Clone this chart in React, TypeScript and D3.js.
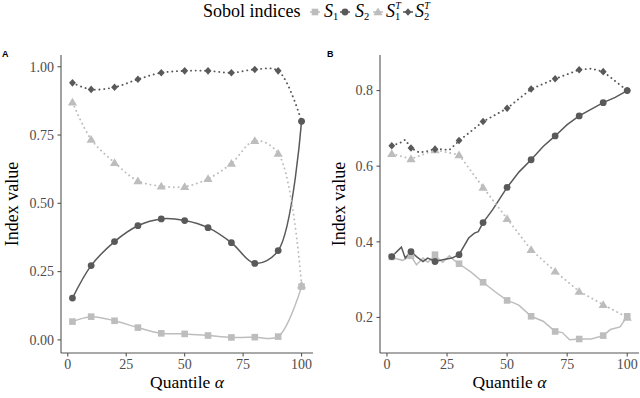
import React from "react"
import * as d3 from "d3"

// quantile levels where the points sit
const quantiles = [2, 10, 20, 30, 40, 50, 60, 70, 80, 90, 100]
const xTicks = [0, 25, 50, 75, 100]

// panel A values
const aS1 = [0.067, 0.085, 0.07, 0.045, 0.024, 0.022, 0.016, 0.009, 0.01, 0.012, 0.195]
const aS2 = [0.153, 0.272, 0.36, 0.418, 0.443, 0.437, 0.411, 0.356, 0.28, 0.327, 0.8]
const aS1T = [0.87, 0.734, 0.649, 0.582, 0.563, 0.561, 0.59, 0.646, 0.729, 0.683, 0.2]
const aS2T = [0.941, 0.917, 0.925, 0.954, 0.978, 0.985, 0.985, 0.978, 0.99, 0.985, 0.8]
const aTicks = [0, 0.25, 0.5, 0.75, 1]

// panel B values
const bS1 = [0.36, 0.363, 0.366, 0.342, 0.293, 0.245, 0.203, 0.163, 0.143, 0.152, 0.203]
const bS2 = [0.361, 0.374, 0.348, 0.366, 0.451, 0.544, 0.617, 0.68, 0.733, 0.768, 0.8]
const bS1T = [0.633, 0.619, 0.643, 0.63, 0.544, 0.461, 0.379, 0.322, 0.269, 0.234, 0.2]
const bS2T = [0.654, 0.648, 0.645, 0.668, 0.718, 0.753, 0.804, 0.831, 0.855, 0.85, 0.8]
const bTicks = [0.2, 0.4, 0.6, 0.8]

// panel B lines follow the finer estimates
const bLineS1: [number, number][] = [
  [2, 0.36], [4, 0.355], [6.5, 0.351], [10, 0.363], [12.3, 0.339], [15, 0.357], [17, 0.346],
  [20, 0.363], [23.2, 0.346], [26, 0.363], [28, 0.351], [30, 0.342], [35, 0.32], [40, 0.293],
  [45, 0.268], [50, 0.245], [53, 0.238], [55, 0.232], [60, 0.203], [65, 0.19], [70, 0.163],
  [73, 0.16], [76, 0.141], [80, 0.143], [85, 0.143], [90, 0.152], [93, 0.168], [97, 0.175], [100, 0.203],
]
const bLineS2: [number, number][] = [
  [2, 0.361], [6, 0.386], [7.6, 0.357], [10, 0.374], [12.3, 0.361], [15, 0.348], [17, 0.357],
  [20, 0.348], [23.7, 0.353], [27, 0.357], [30, 0.366], [34, 0.41], [36.4, 0.423], [38, 0.427],
  [40, 0.451], [44, 0.485], [50, 0.544], [55, 0.585], [60, 0.617], [65, 0.652], [70, 0.68],
  [75, 0.71], [80, 0.733], [90, 0.768], [95, 0.782], [100, 0.8],
]
const bLineS2T: [number, number][] = [
  [2, 0.655], [5, 0.66], [7.6, 0.67], [10, 0.648], [13.5, 0.636], [17, 0.64], [20, 0.646],
  [26, 0.643], [30, 0.667], [40, 0.718], [50, 0.753], [60, 0.804], [70, 0.831], [80, 0.855],
  [85, 0.858], [90, 0.85], [100, 0.8],
]

const light = "#bdbdbd"
const dark = "#595959"
const serif = "'Liberation Serif', 'Times New Roman', serif"

const zip = (vals: number[]) => quantiles.map((q, i) => [q, vals[i]] as [number, number])

function Marker({shape, x, y, color}: {shape: string, x: number, y: number, color: string}) {
  if (shape == "circle") return <circle cx={x} cy={y} r={3.4} fill={color} />
  if (shape == "square") return <rect x={x - 3.3} y={y - 3.3} width={6.6} height={6.6} fill={color} />
  if (shape == "triangle") {
    let s = 4.4
    return <path d={`M${x},${y - s}L${x + s * 1.05},${y + s * 0.75}L${x - s * 1.05},${y + s * 0.75}Z`} fill={color} />
  }
  let s = 3.8
  return <path d={`M${x},${y - s}L${x + s * 0.9},${y}L${x},${y + s}L${x - s * 0.9},${y}Z`} fill={color} />
}

type Series = {points: [number, number][], line: [number, number][], shape: string, color: string, dotted: boolean}

function Panel({left, right, yDomain, yTicks, fmt, label, labelX, titleX, series, smooth}: any) {
  let top = 55, bottom = 353
  let x = d3.scaleLinear().domain([-2.9, 104.9]).range([left, right])
  let y = d3.scaleLinear().domain(yDomain).range([bottom, top])
  let line = d3.line<[number, number]>()
    .x(d => x(d[0]))
    .y(d => y(d[1]))
    .curve(smooth ? d3.curveCatmullRom.alpha(0.5) : d3.curveLinear)

  return (
    <g>
      <text x={labelX} y={57} fontFamily="'Liberation Sans', Arial, sans-serif" fontWeight="bold" fontSize={9}>{label}</text>
      {(series as Series[]).map((s, i) => (
        <path key={"l" + i} d={line(s.line) || ""} fill="none" stroke={s.color}
          strokeWidth={s.dotted ? 1.9 : 1.5}
          strokeDasharray={s.dotted ? "0.1 4.6" : undefined}
          strokeLinecap={s.dotted ? "round" : "butt"} />
      ))}
      {(series as Series[]).map((s, i) => s.points.map((p, j) => (
        <Marker key={"m" + i + "-" + j} shape={s.shape} x={x(p[0])} y={y(p[1])} color={s.color} />
      )))}
      <line x1={left} x2={left} y1={top} y2={bottom} stroke="#555" strokeWidth={1.1} />
      <line x1={left} x2={right} y1={bottom} y2={bottom} stroke="#555" strokeWidth={1.1} />
      {yTicks.map((t: number) => (
        <g key={"y" + t}>
          <line x1={left - 3.5} x2={left} y1={y(t)} y2={y(t)} stroke="#555" strokeWidth={1.1} />
          <text x={left - 7} y={y(t)} dy="0.34em" textAnchor="end" fill="#4d4d4d"
            fontFamily={serif} fontSize={14}>{fmt(t)}</text>
        </g>
      ))}
      {xTicks.map(t => (
        <g key={"x" + t}>
          <line x1={x(t)} x2={x(t)} y1={bottom} y2={bottom + 3.5} stroke="#555" strokeWidth={1.1} />
          <text x={x(t)} y={369} textAnchor="middle" fill="#4d4d4d"
            fontFamily={serif} fontSize={14}>{t}</text>
        </g>
      ))}
      <text x={(left + right) / 2} y={388} textAnchor="middle" fontFamily={serif} fontSize={17.5}>
        Quantile <tspan fontStyle="italic">α</tspan>
      </text>
      <text transform={`translate(${titleX},${(top + bottom) / 2}) rotate(-90)`} textAnchor="middle"
        fontFamily={serif} fontSize={18}>Index value</text>
    </g>
  )
}

function LegendLabel({x, sub, sup}: {x: number, sub: string, sup?: string}) {
  return (
    <text x={x} y={17} fontFamily={serif} fontSize={18}>
      <tspan fontStyle="italic">S</tspan>
      <tspan fontSize={10.5} dy={3}>{sub}</tspan>
      {sup ? <tspan fontSize={10} fontStyle="italic" dx={-5} dy={-11.5}>{sup}</tspan> : null}
    </text>
  )
}

export default function App() {
  let seriesA: Series[] = [
    {points: zip(aS1), line: zip(aS1), shape: "square", color: light, dotted: false},
    {points: zip(aS2), line: zip(aS2), shape: "circle", color: dark, dotted: false},
    {points: zip(aS1T), line: zip(aS1T), shape: "triangle", color: light, dotted: true},
    {points: zip(aS2T), line: zip(aS2T), shape: "diamond", color: dark, dotted: true},
  ]
  let seriesB: Series[] = [
    {points: zip(bS1), line: bLineS1, shape: "square", color: light, dotted: false},
    {points: zip(bS2), line: bLineS2, shape: "circle", color: dark, dotted: false},
    {points: zip(bS1T), line: zip(bS1T), shape: "triangle", color: light, dotted: true},
    {points: zip(bS2T), line: bLineS2T, shape: "diamond", color: dark, dotted: true},
  ]

  let keys = [
    {x: 315, shape: "square", color: light, sub: "1", sup: undefined, tx: 324},
    {x: 345, shape: "circle", color: dark, sub: "2", sup: undefined, tx: 355},
    {x: 378, shape: "triangle", color: light, sub: "1", sup: "T", tx: 386},
    {x: 408, shape: "diamond", color: dark, sub: "2", sup: "T", tx: 415},
  ]

  return (
    <svg width={640} height={398} style={{position: "absolute", left: 0, top: 0, background: "#fff"}}>
      <text x={203} y={17} fontFamily={serif} fontSize={18}>Sobol indices</text>
      {keys.map((k, i) => (
        <g key={"k" + i}>
          <line x1={k.x - 5} x2={k.x + 5} y1={12} y2={12} stroke={k.color} strokeWidth={1.5} />
          <Marker shape={k.shape} x={k.x} y={12} color={k.color} />
          <LegendLabel x={k.tx} sub={k.sub} sup={k.sup} />
        </g>
      ))}
      <Panel left={61} right={313} yDomain={[-0.048, 1.043]} yTicks={aTicks} fmt={d3.format(".2f")}
        label="A" labelX={2} titleX={18} series={seriesA} smooth={true} />
      <Panel left={380} right={639} yDomain={[0.106, 0.894]} yTicks={bTicks} fmt={d3.format(".1f")}
        label="B" labelX={327} titleX={345} series={seriesB} smooth={false} />
    </svg>
  )
}
